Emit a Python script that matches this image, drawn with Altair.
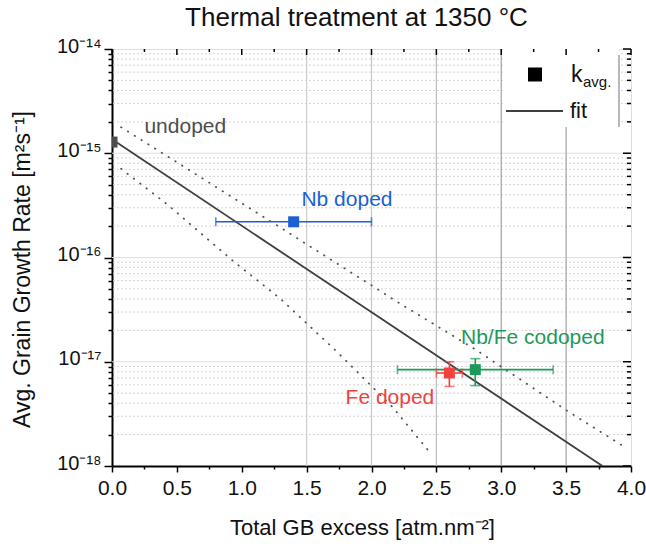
import altair as alt
import pandas as pd

# ---------------- data ----------------
samples = ["undoped", "Nb doped", "Fe doped", "Nb/Fe codoped"]
excess = [0.0, 1.4, 2.6, 2.8]
k_avg = [1.28e-15, 2.2e-16, 7.8e-18, 8.4e-18]
excess_lo = [None, 0.8, 2.5, 2.2]
excess_hi = [None, 2.0, 2.7, 3.4]
k_lo = [None, None, 5.8e-18, 5.9e-18]
k_hi = [None, None, 1.0e-17, 1.07e-17]
colors = ["#4d4d4d", "#1a5fd6", "#f2413f", "#1c9a58"]

fit_x = [0.0, 3.78]
fit_k = [1.36e-15, 1.0e-18]

upper_x = [0.07, 1.28, 2.23, 2.81, 3.49, 3.94]
upper_k = [1.78e-15, 2.0e-16, 3.55e-17, 1.29e-17, 3.5e-18, 1.55e-18]
lower_x = [0.07, 0.43, 0.94, 1.30, 1.73, 2.16, 2.45]
lower_k = [7.1e-16, 3.2e-16, 9.1e-17, 4.0e-17, 1.26e-17, 3.7e-18, 1.35e-18]

label_text = ["undoped", "Nb doped", "Nb/Fe codoped", "Fe doped"]
label_x = [0.25, 1.46, 2.69, 1.80]
label_k = [1.78e-15, 3.6e-16, 1.7e-17, 4.5e-18]
label_colors = ["#4d4d4d", "#1a5fd6", "#1c9a58", "#f2413f"]

x_major = [0.0, 0.5, 1.0, 1.5, 2.0, 2.5, 3.0, 3.5, 4.0]
x_minor = [0.25, 0.75, 1.25, 1.75, 2.25, 2.75, 3.25, 3.75]
x_grid = [1.5, 2.0, 2.5, 3.0, 3.5]
x_grid_colors = ["#d0d0d0", "#c8c8c8", "#c0c0c0", "#a8a8a8", "#a8a8a8"]

y_major = [1e-18, 1e-17, 1e-16, 1e-15, 1e-14]
y_major_labels = ["10⁻¹⁸", "10⁻¹⁷", "10⁻¹⁶", "10⁻¹⁵", "10⁻¹⁴"]
y_minor_mult = [2, 3, 4, 5, 6, 7, 8, 9]
y_minor = [m * d for d in y_major[:-1] for m in y_minor_mult]

title_text = "Thermal treatment at 1350 °C"

FONT = "Liberation Sans"
W, H = 519, 417

# ---------------- scales / axes ----------------
xscale = alt.Scale(domain=[0, 4], nice=False, zero=False)
yscale = alt.Scale(type="log", domain=[1e-18, 1e-14], nice=False)

y_label_expr = "".join(
    f"datum.value === {v} ? '{l}' : " for v, l in zip(y_major, y_major_labels)
) + "''"
major_test = "indexof([" + ",".join(str(v) for v in y_major) + "], datum.value) >= 0"

x_axis = alt.Axis(
    values=sorted(x_major + x_minor),
    labelExpr="datum.value % 0.5 === 0 ? format(datum.value, '.1f') : ''",
    tickSize={"condition": {"test": "datum.value % 0.5 !== 0", "value": 3}, "value": 6},
    tickColor="black", tickWidth=1.5, domainColor="black", domainWidth=2,
    grid=False, labelFontSize=21, labelPadding=5, labelColor="#111",
    labelOverlap=False, labelFlush=False,
    title="Total GB excess [atm.nm⁻²]", titleFontSize=22, titleFontWeight="normal",
    titleColor="#111", titleX=250, titleY=61, titleBaseline="middle", titleAlign="center",
)
y_axis = alt.Axis(
    values=sorted(y_major + y_minor),
    labelExpr=y_label_expr,
    tickSize={"condition": {"test": major_test, "value": 8}, "value": 4},
    tickColor="black", tickWidth=1.5, domainColor="black", domainWidth=2,
    grid=False, labelFontSize=20, labelPadding=3, labelColor="#111",
    labelOverlap=False, labelFlush=False, labelOffset=-3,
    title="Avg. Grain Growth Rate [m²s⁻¹]", titleFontSize=23, titleFontWeight="normal",
    titleColor="#111", titleX=-90, titleY=220, titleAngle=270,
    titleBaseline="middle", titleAlign="center",
)


def X(field):
    return alt.X(field, type="quantitative", scale=xscale, axis=x_axis)


def Y(field):
    return alt.Y(field, type="quantitative", scale=yscale, axis=y_axis)


# ---------------- tables ----------------
pts = pd.DataFrame({"sample": samples, "x": excess, "k": k_avg,
                    "xlo": excess_lo, "xhi": excess_hi,
                    "klo": k_lo, "khi": k_hi, "color": colors})
xerr = pts.dropna(subset=["xlo"])
yerr = pts.dropna(subset=["klo"])
xcaps = pd.concat([
    pd.DataFrame({"x": xerr["xlo"], "k": xerr["k"], "color": xerr["color"]}),
    pd.DataFrame({"x": xerr["xhi"], "k": xerr["k"], "color": xerr["color"]}),
])
ycaps = pd.concat([
    pd.DataFrame({"x": yerr["x"], "k": yerr["klo"], "color": yerr["color"]}),
    pd.DataFrame({"x": yerr["x"], "k": yerr["khi"], "color": yerr["color"]}),
])
fit = pd.DataFrame({"x": fit_x, "k": fit_k})
upper = pd.DataFrame({"x": upper_x, "k": upper_k})
lower = pd.DataFrame({"x": lower_x, "k": lower_k})
labels = pd.DataFrame({"t": label_text, "x": label_x, "k": label_k, "color": label_colors})
hmajor = pd.DataFrame({"k": y_major[1:-1]})
hminor = pd.DataFrame({"k": y_minor})
vgrid = pd.DataFrame({"x": x_grid, "color": x_grid_colors})
top_major = pd.DataFrame({"x": x_major})
top_minor = pd.DataFrame({"x": x_minor})
right_major = pd.DataFrame({"k": y_major})
right_minor = pd.DataFrame({"k": y_minor})
one = pd.DataFrame({"t": [title_text]})

# ---------------- layers ----------------
layers = []
layers.append(alt.Chart(hminor).mark_rule(color="#d4d4d4", strokeWidth=1, strokeDash=[2, 2])
              .encode(y=Y("k")))
layers.append(alt.Chart(hmajor).mark_rule(color="#e0e0e0", strokeWidth=1.2)
              .encode(y=Y("k")))
layers.append(alt.Chart(vgrid).mark_rule(strokeWidth=1.3)
              .encode(x=X("x"), color=alt.Color("color:N", scale=None)))
# legend background box
layers.append(alt.Chart(one).mark_rect(fill="white", stroke=None)
              .encode(x=alt.value(391), x2=alt.value(507), y=alt.value(0), y2=alt.value(78)))
layers.append(alt.Chart(one).mark_rule(color="#a0a0a0", strokeWidth=1.5)
              .encode(x=alt.value(507), y=alt.value(6), y2=alt.value(78)))
# inner ticks on the top and right sides
layers.append(alt.Chart(top_major).mark_rule(color="black", strokeWidth=1.5)
              .encode(x=X("x"), y=alt.value(0), y2=alt.value(6)))
layers.append(alt.Chart(top_minor).mark_rule(color="black", strokeWidth=1.5)
              .encode(x=X("x"), y=alt.value(0), y2=alt.value(3)))
layers.append(alt.Chart(right_major).mark_rule(color="black", strokeWidth=1.5)
              .encode(y=Y("k"), x=alt.value(W), x2=alt.value(W - 8)))
layers.append(alt.Chart(right_minor).mark_rule(color="black", strokeWidth=1.5)
              .encode(y=Y("k"), x=alt.value(W), x2=alt.value(W - 4)))
# confidence bands and fit
dot = dict(color="#555555", strokeWidth=1.8, strokeDash=[0.5, 7.5], strokeCap="round")
layers.append(alt.Chart(upper).mark_line(**dot).encode(x=X("x"), y=Y("k")))
layers.append(alt.Chart(lower).mark_line(**dot).encode(x=X("x"), y=Y("k")))
layers.append(alt.Chart(fit).mark_line(color="#404040", strokeWidth=1.8)
              .encode(x=X("x"), y=Y("k")))
# error bars
layers.append(alt.Chart(xerr).mark_rule(strokeWidth=1.6)
              .encode(x=X("xlo"), x2="xhi", y=Y("k"), color=alt.Color("color:N", scale=None)))
layers.append(alt.Chart(xcaps).mark_tick(orient="vertical", size=9, thickness=1.6)
              .encode(x=X("x"), y=Y("k"), color=alt.Color("color:N", scale=None)))
layers.append(alt.Chart(yerr).mark_rule(strokeWidth=1.6)
              .encode(x=X("x"), y=Y("klo"), y2="khi", color=alt.Color("color:N", scale=None)))
layers.append(alt.Chart(ycaps).mark_tick(orient="horizontal", size=10, thickness=1.6)
              .encode(x=X("x"), y=Y("k"), color=alt.Color("color:N", scale=None)))
# points
layers.append(alt.Chart(pts).mark_square(size=121, opacity=1, clip=True)
              .encode(x=X("x"), y=Y("k"), color=alt.Color("color:N", scale=None)))
# annotations
layers.append(alt.Chart(labels).mark_text(align="left", baseline="middle", fontSize=21, font=FONT)
              .encode(x=X("x"), y=Y("k"), text="t:N", color=alt.Color("color:N", scale=None)))
# legend
layers.append(alt.Chart(one).mark_square(size=196, color="black", opacity=1)
              .encode(x=alt.value(423), y=alt.value(25.5)))
layers.append(alt.Chart(one).mark_text(text="k", align="left", baseline="alphabetic",
                                       fontSize=23, font=FONT, color="#111")
              .encode(x=alt.value(459), y=alt.value(33)))
layers.append(alt.Chart(one).mark_text(text="avg.", align="left", baseline="alphabetic",
                                       fontSize=15, font=FONT, color="#111")
              .encode(x=alt.value(471), y=alt.value(38)))
layers.append(alt.Chart(one).mark_rule(color="#404040", strokeWidth=1.8)
              .encode(x=alt.value(394), x2=alt.value(451), y=alt.value(62)))
layers.append(alt.Chart(one).mark_text(text="fit", align="left", baseline="alphabetic",
                                       fontSize=22, font=FONT, color="#111")
              .encode(x=alt.value(458), y=alt.value(69)))
# chart title
layers.append(alt.Chart(one).mark_text(align="center", baseline="middle", fontSize=26,
                                       font=FONT, color="#111")
              .encode(text="t:N", x=alt.value(W / 2 - 15), y=alt.value(-31)))

chart = alt.layer(*layers).properties(
    width=W, height=H,
    autosize="none",
    padding={"left": 112, "top": 49, "right": 15, "bottom": 87},
).configure_view(stroke="black", strokeWidth=1.8).configure_axis(
    labelFont=FONT, titleFont=FONT
).configure(background="white")

chart.save("out.html", embed_options={"renderer": "svg", "actions": False})
